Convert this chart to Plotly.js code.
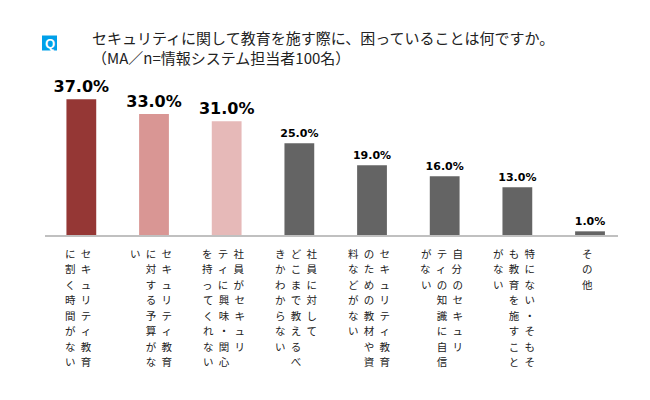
<!DOCTYPE html>
<html>
<head>
<meta charset="utf-8">
<script src="https://cdn.plot.ly/plotly-3.0.1.min.js"></script>
<style>html,body{margin:0;padding:0;background:#fff;}#chart{width:650px;height:400px;}</style>
</head>
<body>
<div id="chart"></div>
<script>
// Categories (full text) and their vertical-writing columns (right-to-left)
const categories = [
  "セキュリティ教育に割く時間がない",
  "セキュリティ教育に対する予算がない",
  "社員がセキュリティに興味・関心を持ってくれない",
  "社員に対してどこまで教えるべきかわからない",
  "セキュリティ教育のための教材や資料などがない",
  "自分のセキュリティの知識に自信がない",
  "特にない・そもそも教育を施すことがない",
  "その他"
];
const labelColumns = [
  ["セキュリティ教育", "に割く時間がない"],
  ["セキュリティ教育", "に対する予算がな", "い"],
  ["社員がセキュリ", "ティに興味・関心", "を持ってくれない"],
  ["社員に対して", "どこまで教えるべ", "きかわからない"],
  ["セキュリティ教育", "のための教材や資", "料などがない"],
  ["自分のセキュリ", "ティの知識に自信", "がない"],
  ["特にない・そもそ", "も教育を施すこと", "がない"],
  ["その他"]
];
const values = [37.0, 33.0, 31.0, 25.0, 19.0, 16.0, 13.0, 1.0];
const barColors = ["#953735", "#D99694", "#E6B9B8", "#646464", "#646464", "#646464", "#646464", "#646464"];
const labelSizes = [16, 16, 16, 11, 11, 11, 11, 11];
const titleLine1 = "セキュリティに関して教育を施す際に、困っていることは何ですか。";
const titleLine2 = "（MA／n=情報システム担当者100名）";

// layout constants (pixels)
const M = { l: 45, r: 32, t: 70, b: 165 };
const plotH = 400 - M.t - M.b;
const plotW = 650 - M.l - M.r;
const rowTop = 18;     // distance from axis to first row centre
const rowPitch = 15.5; // vertical distance between characters
const px = v => (v - M.l) / plotW;          // pixel x -> paper
const py = v => (400 - M.b - v) / plotH;    // pixel y -> paper

function labelRows(cols) {
  const arr = cols.map(c => Array.from(c));
  const n = Math.max(...arr.map(a => a.length));
  const rows = [];
  for (let i = 0; i < n; i++) {
    const parts = [];
    for (let j = arr.length - 1; j >= 0; j--) {
      parts.push(arr[j][i] !== undefined ? arr[j][i] : "\u3000");
    }
    rows.push(parts.join("\u2002"));
  }
  return rows;
}

const annotations = [];
labelColumns.forEach((cols, k) => {
  labelRows(cols).forEach((row, i) => {
    annotations.push({
      text: row,
      xref: "x", yref: "paper",
      x: categories[k],
      y: -(rowTop + i * rowPitch) / plotH,
      xanchor: "center", yanchor: "middle",
      xshift: -3,
      showarrow: false,
      font: { family: "Noto Sans CJK JP", size: 10.5, color: "#222" }
    });
  });
});

annotations.push({
  text: "<b>Q</b>",
  xref: "paper", yref: "paper",
  x: px(49.5), y: py(43),
  xanchor: "center", yanchor: "middle",
  showarrow: false,
  font: { family: "Arial", size: 13, color: "#fff" }
});

const trace = {
  type: "bar",
  x: categories,
  y: values,
  marker: { color: barColors },
  text: values.map(v => v.toFixed(1) + "%"),
  textposition: "outside",
  constraintext: "none",
  cliponaxis: false,
  textfont: { family: "DejaVu Sans", size: labelSizes, color: "#000", weight: "bold" },
  hoverinfo: "none"
};

const layout = {
  width: 650, height: 400,
  margin: M,
  paper_bgcolor: "#fff", plot_bgcolor: "#fff",
  showlegend: false,
  bargap: 0.59,
  title: {
    text: titleLine1 + "<br>" + titleLine2,
    font: { family: "Noto Sans CJK JP", size: 15, color: "#222" },
    xref: "container", yref: "container",
    x: 92 / 650, xanchor: "left",
    y: 1 - 44 / 400, yanchor: "top"
  },
  xaxis: {
    type: "category",
    range: [-0.5, 7.385],
    showticklabels: false,
    ticks: "",
    showgrid: false,
    zeroline: false,
    showline: true,
    linecolor: "#C0C0C0",
    linewidth: 2
  },
  yaxis: {
    range: [0, 45],
    visible: false,
    showgrid: false,
    zeroline: false
  },
  shapes: [{
    type: "rect", xref: "paper", yref: "paper",
    x0: px(42), x1: px(57), y0: py(50.5), y1: py(35.5),
    fillcolor: "#00A0E9", line: { width: 0 }, layer: "below"
  }],
  annotations: annotations
};

Plotly.newPlot("chart", [trace], layout, { displayModeBar: false, staticPlot: true });
</script>
</body>
</html>
